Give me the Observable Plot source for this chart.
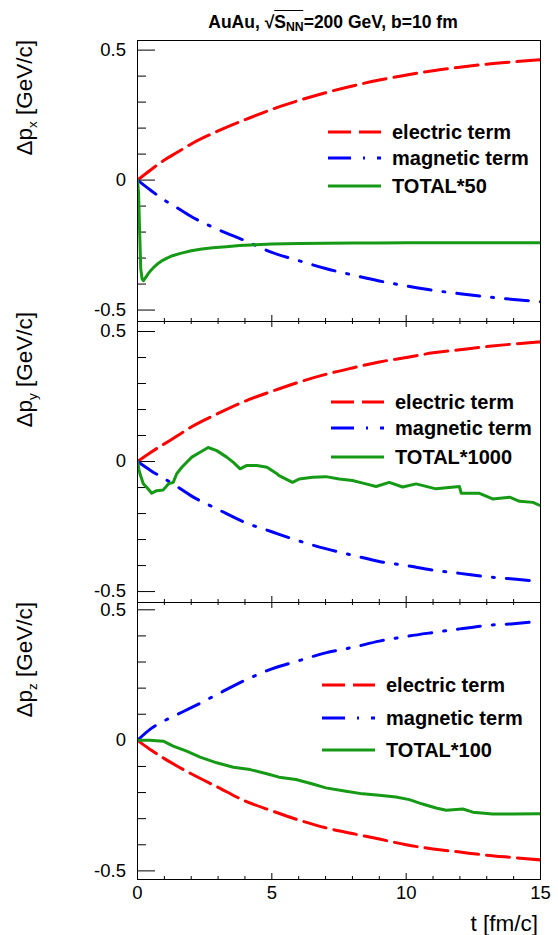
<!DOCTYPE html>
<html>
<head>
<meta charset="utf-8">
<script src="https://cdn.jsdelivr.net/npm/d3@7"></script>
<script src="https://cdn.jsdelivr.net/npm/@observablehq/plot@0.6"></script>
<style>
  body { margin: 0; background: #fff; font-family: "Liberation Sans", Arial, sans-serif; color: #000; }
  #fig { position: relative; width: 558px; height: 935px; overflow: hidden; background: #fff; }
  .abs { position: absolute; }
  .title { font-weight: bold; font-size: 17.5px; line-height: 17.5px; white-space: nowrap; transform: translateX(-50%); }
  .rad { border-top: 1.2px solid #000; padding-top: 1px; }
  .ylab { font-size: 22.5px; line-height: 22px; white-space: nowrap; width: 300px; text-align: right;
          transform: rotate(-90deg); transform-origin: 0 0; }
  .sub { font-size: 0.6em; position: relative; top: 0.35em; }
  .xlab { font-size: 22.5px; line-height: 22px; white-space: nowrap; text-align: right; }
  .leg { font-weight: bold; font-size: 20px; line-height: 20px; white-space: nowrap; display: flex; align-items: center; }
  .leg svg { display: block; margin-right: 11px; }
</style>
</head>
<body>
<div id="fig"></div>
<script>
// ---- time grid shared by the electric / magnetic curves (fm/c)
const tGrid = [0, 0.5, 1, 1.5, 2, 3, 4, 5, 6, 7, 8, 9, 10, 11, 12, 13, 14, 15];

// ---- Δp_x
const elecX = [0, 0.04, 0.077, 0.108, 0.139, 0.189, 0.232, 0.272, 0.306, 0.336, 0.362, 0.385, 0.404, 0.421, 0.434, 0.446, 0.455, 0.463];
const magX  = [0, -0.04, -0.077, -0.108, -0.14, -0.19, -0.233, -0.278, -0.31, -0.34, -0.365, -0.388, -0.407, -0.424, -0.437, -0.449, -0.459, -0.468];
const totXT = [0, 0.04, 0.08, 0.12, 0.17, 0.22, 0.3, 0.4, 0.5, 0.6, 0.75, 0.9, 1.1, 1.3, 1.6, 2.0, 2.4, 2.8, 3.3, 3.8, 4.4, 5, 6, 7, 8, 9, 10, 11, 12, 13, 14, 15];
const totXV = [0, -0.05, -0.2, -0.34, -0.38, -0.387, -0.375, -0.36, -0.347, -0.336, -0.322, -0.311, -0.3, -0.291, -0.282, -0.272, -0.265, -0.26, -0.256, -0.252, -0.249, -0.246, -0.244, -0.243, -0.242, -0.242, -0.241, -0.241, -0.241, -0.241, -0.241, -0.241];

// ---- Δp_y
const elecY = [0, 0.036, 0.068, 0.1, 0.133, 0.185, 0.232, 0.27, 0.305, 0.335, 0.36, 0.383, 0.4, 0.418, 0.43, 0.442, 0.452, 0.46];
const magY  = [0, -0.035, -0.066, -0.098, -0.132, -0.184, -0.234, -0.27, -0.305, -0.335, -0.36, -0.384, -0.4, -0.418, -0.43, -0.443, -0.452, -0.462];
const totYT = [0, 0.05, 0.1, 0.22, 0.35, 0.53, 0.71, 0.96, 1.15, 1.33, 1.46, 1.65, 2.02, 2.33, 2.63, 2.95, 3.32, 3.57, 3.82, 4.07, 4.44, 4.82, 5.19, 5.27, 5.77, 6.02, 6.51, 7.01, 7.51, 8.0, 8.5, 8.88, 9.37, 9.87, 10.37, 11.11, 11.98, 12.05, 12.73, 13.22, 13.85, 14.22, 14.72, 15];
const totYV = [0, -0.03, -0.05, -0.086, -0.1, -0.122, -0.112, -0.109, -0.086, -0.08, -0.047, -0.022, 0.017, 0.036, 0.054, 0.042, 0.017, -0.003, -0.028, -0.015, -0.015, -0.022, -0.047, -0.054, -0.08, -0.067, -0.06, -0.058, -0.067, -0.073, -0.086, -0.096, -0.08, -0.098, -0.086, -0.105, -0.096, -0.122, -0.122, -0.144, -0.137, -0.153, -0.157, -0.17];

// ---- Δp_z
const elecZ = [0, -0.037, -0.07, -0.1, -0.128, -0.18, -0.232, -0.27, -0.305, -0.335, -0.357, -0.378, -0.4, -0.416, -0.428, -0.44, -0.449, -0.458];
const magZ  = [0, 0.045, 0.075, 0.1, 0.125, 0.178, 0.23, 0.274, 0.305, 0.335, 0.356, 0.38, 0.398, 0.413, 0.427, 0.44, 0.447, 0.456];
const totZT = [0, 0.45, 0.96, 1.33, 1.83, 2.33, 2.95, 3.57, 4.19, 4.81, 5.27, 5.9, 6.52, 7.01, 7.76, 8.38, 9.0, 9.62, 10.12, 10.61, 11.11, 11.49, 12.11, 12.48, 13.22, 13.97, 14.96, 15];
const totZV = [0, 0, -0.003, -0.022, -0.041, -0.064, -0.086, -0.103, -0.112, -0.128, -0.141, -0.15, -0.167, -0.182, -0.195, -0.205, -0.21, -0.217, -0.227, -0.244, -0.259, -0.268, -0.263, -0.275, -0.282, -0.282, -0.281, -0.281];

// ---- axes
const xMajor = [0, 5, 10, 15];
const xTickLabels = ["0", "5", "10", "15"];
const xMinor = [1, 2, 3, 4, 6, 7, 8, 9, 11, 12, 13, 14];
const yMajor = [-0.5, 0, 0.5];
const yTickLabels = ["-0.5", "0", "0.5"];
const yMinor = [-0.4, -0.3, -0.2, -0.1, 0.1, 0.2, 0.3, 0.4];

// ---- series labels
const seriesNames = ["electric term", "magnetic term"];
const totalNames = ["TOTAL*50", "TOTAL*1000", "TOTAL*100"];
const axisTitles = [["Δp", "x"], ["Δp", "y"], ["Δp", "z"]];

// ---- styles
const RED = "#ff0000", BLUE = "#0000ff", GREEN = "#169a16";
const DASH_E = "23 8", DASH_M = "23 12 2 12";

const zip = (ts, vs) => ts.map((t, i) => ({t, v: vs[i]}));
const data = [
  {elec: zip(tGrid, elecX), mag: zip(tGrid, magX), tot: zip(totXT, totXV)},
  {elec: zip(tGrid, elecY), mag: zip(tGrid, magY), tot: zip(totYT, totYV)},
  {elec: zip(tGrid, elecZ), mag: zip(tGrid, magZ), tot: zip(totZT, totZV)}
];

// panel layout (svg top, svg height, margins, y domain, label/legend placement)
const layout = [
  {top: 0,   h: 322, mt: 40, mb: 1,  dom: [-0.544, 0.537], labEnd: 40,  leg: {x: 328, ys: [131.7, 157.7, 186]}},
  {top: 320, h: 283, mt: 1,  mb: 1,  dom: [-0.542, 0.5385], labEnd: 312, leg: {x: 331, ys: [401.7, 428.3, 456.7]}},
  {top: 601, h: 334, mt: 1,  mb: 56, dom: [-0.533, 0.528], labEnd: 602, leg: {x: 322, ys: [685, 717.7, 750]}}
];

const W = 558, ML = 137, MR = 18;
const frameW = W - ML - MR;
const fig = document.getElementById("fig");

layout.forEach((L, k) => {
  const frameH = L.h - L.mt - L.mb;
  const d = data[k];
  const marks = [
    // y-axis ticks pointing into the frame
    Plot.ruleY(yMinor, {y: v => v, insetRight: frameW - 9, stroke: "#000"}),
    Plot.ruleY(yMajor, {y: v => v, insetRight: frameW - 18, stroke: "#000"}),
    // x-axis ticks rising from the bottom edge
    Plot.ruleX(xMinor, {x: v => v, insetTop: frameH - 3, stroke: "#000"}),
    Plot.ruleX(xMajor, {x: v => v, insetTop: frameH - 6, stroke: "#000"}),
    // curves
    Plot.line(d.elec, {x: "t", y: "v", stroke: RED, strokeWidth: 3, strokeDasharray: DASH_E, curve: "monotone-x", clip: true}),
    Plot.line(d.mag, {x: "t", y: "v", stroke: BLUE, strokeWidth: 3, strokeDasharray: DASH_M, curve: "monotone-x", clip: true}),
    Plot.line(d.tot, {x: "t", y: "v", stroke: GREEN, strokeWidth: 3, clip: true}),
    Plot.frame({stroke: "#000", strokeWidth: 1}),
    Plot.axisY(yMajor, {tickSize: 0, tickPadding: 11.5, fontSize: 18.5, label: null,
      tickFormat: v => yTickLabels[yMajor.indexOf(v)]})
  ];
  if (k > 0) {
    // ticks hanging from the shared upper edge
    marks.push(Plot.ruleX(xMinor, {x: v => v, insetBottom: frameH - 3, stroke: "#000"}));
    marks.push(Plot.ruleX(xMajor, {x: v => v, insetBottom: frameH - 6, stroke: "#000"}));
  }
  if (k === 2) {
    marks.push(Plot.axisX(xMajor, {tickSize: 0, tickPadding: 6.5, fontSize: 18.5, label: null,
      tickFormat: v => xTickLabels[xMajor.indexOf(v)]}));
  }
  const svg = Plot.plot({
    width: W, height: L.h,
    marginLeft: ML, marginRight: MR, marginTop: L.mt, marginBottom: L.mb,
    x: {domain: [0, 15], axis: null, label: null},
    y: {domain: L.dom, axis: null, label: null},
    style: {background: "transparent", overflow: "visible", fontFamily: "Liberation Sans, Arial, sans-serif", color: "#000"},
    marks
  });
  const wrap = document.createElement("div");
  wrap.className = "abs";
  wrap.style.left = "0px";
  wrap.style.top = L.top + "px";
  wrap.appendChild(svg);
  fig.appendChild(wrap);

  // rotated y-axis title
  const yl = document.createElement("div");
  yl.className = "abs ylab";
  yl.style.left = "14.4px";
  yl.style.top = (L.labEnd + 300) + "px";
  yl.innerHTML = `${axisTitles[k][0]}<span class="sub">${axisTitles[k][1]}</span> [GeV/c]`;
  fig.appendChild(yl);

  // legend
  const entries = [
    {name: seriesNames[0], color: RED, dash: DASH_E},
    {name: seriesNames[1], color: BLUE, dash: DASH_M},
    {name: totalNames[k], color: GREEN, dash: null}
  ];
  entries.forEach((e, i) => {
    const row = document.createElement("div");
    row.className = "abs leg";
    row.style.left = L.leg.x + "px";
    row.style.top = (L.leg.ys[i] - 10) + "px";
    row.innerHTML = `<svg width="53" height="6"><line x1="0" y1="3" x2="53" y2="3" stroke="${e.color}" stroke-width="3" ${e.dash ? `stroke-dasharray="${e.dash}"` : ""}/></svg><span>${e.name}</span>`;
    fig.appendChild(row);
  });
});

// title
const title = document.createElement("div");
title.className = "abs title";
title.style.left = "333px";
title.style.top = "14px";
title.innerHTML = `AuAu, √<span class="rad">S<span class="sub" style="font-size:0.7em;top:0.25em">NN</span></span>=200 GeV, b=10 fm`;
fig.appendChild(title);

// x-axis title
const xl = document.createElement("div");
xl.className = "abs xlab";
xl.style.right = "20px";
xl.style.top = "913.4px";
xl.textContent = "t [fm/c]";
fig.appendChild(xl);
</script>
</body>
</html>
